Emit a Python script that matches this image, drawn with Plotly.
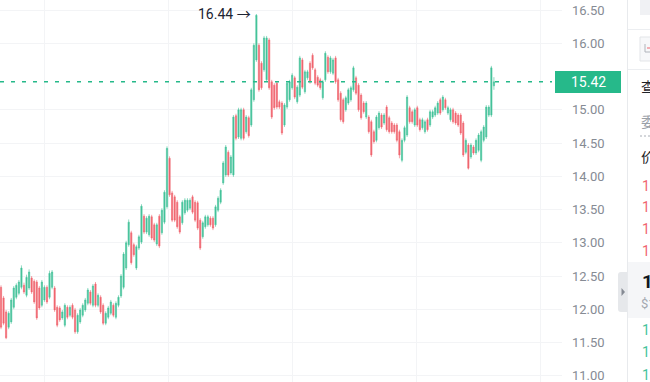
import plotly.graph_objects as go

# ---------------- data (prices) ----------------
opens = [12.33, 12.17, 11.96, 11.73, 11.81, 12.03, 12.18, 12.24, 12.33, 12.36,
         12.21, 12.32, 12.47, 12.42, 12.41, 12.32, 12.06, 12.14, 12.33, 12.18,
         12.33, 12.32, 12.03, 12.02, 11.87, 11.76, 12.03, 11.91, 12.06, 11.99,
         11.66, 11.81, 11.91, 11.99, 12.09, 12.26, 12.06, 12.38, 12.06, 12.18,
         12.06, 11.79, 11.88, 11.94, 12.06, 11.88, 12.06, 12.20, 12.33, 12.62,
         12.97, 13.15, 12.97, 12.62, 12.92, 13.01, 13.40, 13.16, 13.12, 13.39,
         13.27, 12.98, 13.40, 13.15, 13.31, 13.54, 14.27, 13.75, 13.69, 13.61,
         13.39, 13.30, 13.45, 13.49, 13.52, 13.69, 13.61, 13.60, 13.34, 13.09,
         13.24, 13.27, 13.37, 13.37, 13.27, 13.49, 13.61, 13.90, 14.02, 14.36,
         14.05, 14.02, 14.91, 14.59, 14.57, 15.00, 14.67, 14.88, 14.77, 15.15,
         15.75, 15.97, 15.70, 15.60, 15.45, 16.05, 15.42, 15.37, 15.40, 15.12,
         15.10, 14.77, 15.04, 15.15, 15.33, 15.48, 15.12, 15.22, 15.75, 15.27,
         15.48, 15.70, 15.82, 15.60, 15.49, 15.45, 15.18, 15.45, 15.79, 15.57,
         15.55, 15.78, 15.45, 15.25, 15.15, 15.00, 15.10, 15.15, 15.30, 15.48,
         15.37, 15.22, 15.10, 14.89, 14.89, 14.82, 14.67, 14.54, 14.73, 14.92,
         14.80, 15.04, 14.88, 14.80, 14.77, 14.77, 14.67, 14.24, 14.54, 14.62,
         15.03, 14.97, 14.77, 15.03, 14.85, 14.73, 14.67, 14.85, 14.77, 14.89,
         14.92, 14.95, 15.15, 15.00, 15.15, 14.95, 14.85, 15.00, 14.95, 14.92,
         14.92, 14.80, 14.36, 14.47, 14.29, 14.44, 14.35, 14.39, 14.24, 14.54,
         14.59, 14.92, 14.92, 15.36]
closes = [11.73, 11.79, 11.57, 11.94, 12.14, 12.32, 12.36, 12.41, 12.62, 12.26,
          12.48, 12.56, 12.26, 12.11, 11.87, 12.02, 12.41, 12.33, 12.11, 12.54,
          12.56, 11.99, 11.76, 11.84, 11.96, 12.06, 11.88, 12.03, 11.88, 11.66,
          11.91, 11.99, 12.06, 12.14, 12.29, 12.09, 12.35, 12.06, 12.21, 11.96,
          11.79, 11.94, 12.02, 12.11, 11.91, 12.09, 12.18, 12.50, 12.83, 13.00,
          13.31, 12.70, 12.82, 12.94, 13.09, 13.55, 13.16, 13.37, 13.40, 13.07,
          13.04, 13.27, 12.95, 13.49, 13.76, 14.42, 13.72, 13.34, 13.34, 13.24,
          13.16, 13.61, 13.64, 13.64, 13.64, 13.46, 13.34, 13.22, 12.92, 13.30,
          13.39, 13.39, 13.27, 13.22, 13.54, 13.67, 13.79, 14.20, 14.44, 14.02,
          14.29, 14.89, 14.57, 15.00, 15.00, 14.57, 14.89, 14.61, 15.30, 15.97,
          16.42, 15.30, 15.33, 16.08, 16.08, 15.33, 14.89, 15.03, 15.04, 15.04,
          14.65, 15.07, 15.40, 15.42, 15.52, 15.19, 15.34, 15.78, 15.34, 15.57,
          15.57, 15.42, 15.63, 15.40, 15.37, 15.33, 15.42, 15.85, 15.57, 15.78,
          15.75, 15.42, 15.15, 14.85, 14.82, 15.18, 15.30, 15.33, 15.63, 15.25,
          15.00, 14.88, 14.97, 15.10, 14.67, 14.32, 14.52, 14.89, 14.95, 14.74,
          14.92, 14.70, 14.67, 14.67, 14.67, 14.54, 14.32, 14.54, 14.73, 15.19,
          14.82, 14.82, 15.00, 14.77, 14.70, 14.85, 14.82, 14.70, 14.97, 14.97,
          15.03, 15.10, 14.95, 15.19, 15.03, 15.03, 15.00, 14.82, 14.80, 14.77,
          14.65, 14.32, 14.54, 14.12, 14.47, 14.35, 14.54, 14.62, 14.67, 14.74,
          15.04, 15.04, 15.63, 15.42]
highs = [12.36, 12.20, 11.99, 11.97, 12.17, 12.35, 12.39, 12.44, 12.66, 12.40,
         12.52, 12.60, 12.50, 12.45, 12.44, 12.35, 12.44, 12.36, 12.36, 12.58,
         12.59, 12.35, 12.06, 12.05, 11.99, 12.09, 12.06, 12.06, 12.09, 12.02,
         11.94, 12.02, 12.09, 12.17, 12.32, 12.29, 12.38, 12.41, 12.24, 12.21,
         12.09, 11.97, 12.05, 12.14, 12.09, 12.12, 12.21, 12.53, 12.86, 13.03,
         13.35, 13.18, 13.00, 12.97, 13.12, 13.58, 13.43, 13.40, 13.43, 13.42,
         13.30, 13.30, 13.43, 13.52, 13.79, 14.45, 14.30, 13.78, 13.72, 13.64,
         13.42, 13.64, 13.67, 13.67, 13.67, 13.72, 13.64, 13.63, 13.37, 13.33,
         13.42, 13.42, 13.40, 13.40, 13.57, 13.70, 13.82, 14.23, 14.47, 14.39,
         14.32, 14.92, 14.94, 15.03, 15.03, 15.03, 14.92, 14.91, 15.33, 16.00,
         16.44, 16.00, 15.73, 16.11, 16.11, 16.08, 15.45, 15.40, 15.43, 15.15,
         15.13, 15.10, 15.43, 15.45, 15.55, 15.51, 15.37, 15.81, 15.78, 15.60,
         15.60, 15.73, 15.85, 15.63, 15.52, 15.48, 15.45, 15.88, 15.82, 15.81,
         15.78, 15.81, 15.48, 15.28, 15.18, 15.21, 15.33, 15.36, 15.66, 15.51,
         15.40, 15.25, 15.13, 15.13, 14.92, 14.85, 14.70, 14.92, 14.98, 14.95,
         14.95, 15.07, 14.91, 14.83, 14.80, 14.80, 14.70, 14.57, 14.76, 15.22,
         15.06, 15.00, 15.03, 15.06, 14.88, 14.88, 14.85, 14.88, 15.00, 15.00,
         15.06, 15.13, 15.18, 15.22, 15.18, 15.06, 15.03, 15.03, 14.98, 14.95,
         14.95, 14.83, 14.57, 14.50, 14.50, 14.47, 14.57, 14.65, 14.70, 14.77,
         15.07, 15.07, 15.66, 15.49]
lows = [11.70, 11.76, 11.55, 11.70, 11.78, 12.00, 12.15, 12.21, 12.30, 12.23,
        12.18, 12.29, 12.23, 12.08, 11.84, 11.99, 12.03, 12.11, 12.08, 12.15,
        12.30, 11.96, 11.73, 11.81, 11.84, 11.73, 11.85, 11.88, 11.85, 11.63,
        11.63, 11.78, 11.88, 11.96, 12.06, 12.06, 12.03, 12.03, 12.03, 11.93,
        11.76, 11.76, 11.85, 11.91, 11.88, 11.85, 12.03, 12.17, 12.30, 12.59,
        12.94, 12.67, 12.79, 12.59, 12.89, 12.98, 13.13, 13.13, 13.09, 13.04,
        13.01, 12.95, 12.92, 13.12, 13.28, 13.51, 13.69, 13.31, 13.31, 13.21,
        13.13, 13.27, 13.42, 13.46, 13.49, 13.43, 13.31, 13.19, 12.89, 13.06,
        13.21, 13.24, 13.24, 13.19, 13.24, 13.46, 13.58, 13.87, 13.99, 13.99,
        14.02, 13.99, 14.54, 14.56, 14.54, 14.54, 14.64, 14.58, 14.74, 15.12,
        15.72, 15.27, 15.30, 15.57, 15.42, 15.30, 14.86, 15.00, 15.01, 15.01,
        14.62, 14.74, 15.01, 15.12, 15.30, 15.16, 15.09, 15.19, 15.31, 15.24,
        15.45, 15.39, 15.60, 15.37, 15.34, 15.30, 15.15, 15.42, 15.54, 15.54,
        15.52, 15.39, 15.12, 14.82, 14.79, 14.97, 15.07, 15.12, 15.27, 15.22,
        14.97, 14.85, 14.94, 14.86, 14.64, 14.29, 14.49, 14.51, 14.70, 14.71,
        14.77, 14.67, 14.64, 14.64, 14.64, 14.51, 14.27, 14.21, 14.51, 14.59,
        14.79, 14.79, 14.74, 14.74, 14.67, 14.70, 14.64, 14.67, 14.74, 14.86,
        14.89, 14.92, 14.92, 14.97, 15.00, 14.92, 14.82, 14.79, 14.77, 14.74,
        14.62, 14.29, 14.33, 14.10, 14.26, 14.32, 14.32, 14.36, 14.21, 14.51,
        14.56, 14.89, 14.89, 15.30]

last_price = 15.42
price_ticks = [16.5, 16.0, 15.0, 14.5, 14.0, 13.5, 13.0, 12.5, 12.0, 11.5, 11.0]
ask_prices = ["1", "1", "1", "1"]      # order-book rows, only the first digit is visible
bid_prices = ["1", "1", "1"]

# ---------------- styling ----------------
W, H = 650, 382
UP = "#45c39b"
DOWN = "#f0656f"
ACCENT = "#26b98a"
GRID = "#f3f4f6"
FONT = "Roboto, 'Noto Sans CJK SC', sans-serif"


def px(x):
    return x / W


def py(y):
    return 1 - y / H


idx = list(range(len(opens)))

fig = go.Figure(go.Candlestick(
    x=idx, open=opens, high=highs, low=lows, close=closes,
    increasing=dict(line=dict(color=UP, width=0.6), fillcolor=UP),
    decreasing=dict(line=dict(color=DOWN, width=0.6), fillcolor=DOWN),
    whiskerwidth=0, hoverinfo="skip", showlegend=False,
))

step = 2.554  # pixels per candle
x_lo = -1 / step
x_hi = (562 - 1) / step

shapes = [
    # current price dashed line
    dict(type="line", xref="paper", yref="y", x0=0, x1=px(552), y0=last_price, y1=last_price,
         line=dict(color=ACCENT, width=1.5, dash="4px,7px"), layer="above"),
    # price label box
    dict(type="rect", xref="paper", yref="paper", x0=px(555), x1=px(621), y0=py(93), y1=py(71),
         fillcolor=ACCENT, line=dict(width=0), layer="above"),
    # sidebar
    dict(type="line", xref="paper", yref="paper", x0=px(627.5), x1=px(627.5), y0=0, y1=1,
         line=dict(color="#e8eaed", width=1)),
    dict(type="rect", xref="paper", yref="paper", x0=px(640), x1=px(660), y0=py(15), y1=py(-5),
         fillcolor="#f0f1f4", line=dict(width=0)),
    dict(type="line", xref="paper", yref="paper", x0=px(628), x1=1, y0=py(29.5), y1=py(29.5),
         line=dict(color="#eceef1", width=1)),
    dict(type="rect", xref="paper", yref="paper", x0=px(640), x1=px(664), y0=py(61), y1=py(37),
         fillcolor="#f7f8fa", line=dict(color="#e3e5e8", width=1)),
    dict(type="line", xref="paper", yref="paper", x0=px(645), x1=px(645), y0=py(52), y1=py(44),
         line=dict(color="#b0b4bb", width=1)),
    dict(type="line", xref="paper", yref="paper", x0=px(645), x1=px(650), y0=py(52), y1=py(52),
         line=dict(color="#b0b4bb", width=1)),
    dict(type="line", xref="paper", yref="paper", x0=px(647), x1=px(650), y0=py(48), y1=py(48),
         line=dict(color=DOWN, width=1)),
    dict(type="line", xref="paper", yref="paper", x0=px(628), x1=1, y0=py(69.5), y1=py(69.5),
         line=dict(color="#eceef1", width=1)),
    dict(type="line", xref="paper", yref="paper", x0=px(640), x1=1, y0=py(136), y1=py(136),
         line=dict(color="#a8adb5", width=1, dash="2px,2px")),
    dict(type="rect", xref="paper", yref="paper", x0=px(628), x1=1, y0=py(318), y1=py(262),
         fillcolor="#f5f6f8", line=dict(width=0)),
    # collapse handle
    dict(type="path", xref="paper", yref="paper",
         path=(f"M {px(621)},{py(272)} L {px(627)},{py(272)} L {px(627)},{py(312)} "
               f"L {px(621)},{py(312)} Q {px(618)},{py(312)} {px(618)},{py(309)} "
               f"L {px(618)},{py(275)} Q {px(618)},{py(272)} {px(621)},{py(272)} Z"),
         fillcolor="#e6e8eb", line=dict(width=0)),
    dict(type="path", xref="paper", yref="paper",
         path=f"M {px(621.5)},{py(288)} L {px(625)},{py(292)} L {px(621.5)},{py(296)} Z",
         fillcolor="#858a93", line=dict(width=0)),
]

peak_i = max(idx, key=lambda i: highs[i])
annotations = [
    dict(x=peak_i, y=highs[peak_i], xref="x", yref="y", text="16.44 →", showarrow=False,
         xanchor="right", yanchor="middle", xshift=-3,
         font=dict(family=FONT, size=14, color="#1d2433")),
    dict(x=px(588), y=py(82), xref="paper", yref="paper", text=f"{last_price:.2f}", showarrow=False,
         xanchor="center", yanchor="middle", font=dict(family=FONT, size=14, color="white")),
    dict(x=px(639), y=py(87), xref="paper", yref="paper", text="查", showarrow=False,
         xanchor="left", yanchor="middle", font=dict(family=FONT, size=14, color="#1f2329")),
    dict(x=px(639), y=py(122), xref="paper", yref="paper", text="委", showarrow=False,
         xanchor="left", yanchor="middle", font=dict(family=FONT, size=14, color="#9aa0a8")),
    dict(x=px(639), y=py(157), xref="paper", yref="paper", text="价", showarrow=False,
         xanchor="left", yanchor="middle", font=dict(family=FONT, size=14, color="#1f2329")),
    dict(x=px(640), y=py(281), xref="paper", yref="paper", text="<b>1</b>", showarrow=False,
         xanchor="left", yanchor="middle", font=dict(family=FONT, size=19, color="#111722")),
    dict(x=px(639), y=py(303), xref="paper", yref="paper", text="$1", showarrow=False,
         xanchor="left", yanchor="middle", font=dict(family=FONT, size=13, color="#a3a8b0")),
]
for yy, t in zip([186, 207, 229, 251], ask_prices):
    annotations.append(dict(x=px(640), y=py(yy), xref="paper", yref="paper", text=t, showarrow=False,
                            xanchor="left", yanchor="middle",
                            font=dict(family=FONT, size=14, color=DOWN)))
for yy, t in zip([330, 352, 375], bid_prices):
    annotations.append(dict(x=px(640), y=py(yy), xref="paper", yref="paper", text=t, showarrow=False,
                            xanchor="left", yanchor="middle",
                            font=dict(family=FONT, size=14, color=UP)))

y_top = 16.5 + 10 / 66.5
y_bot = 16.5 - (382 - 10) / 66.5

fig.update_layout(
    width=W, height=H,
    margin=dict(l=0, r=0, t=0, b=0, pad=0),
    paper_bgcolor="white", plot_bgcolor="white",
    font=dict(family=FONT),
    xaxis=dict(domain=[0, 562 / W], range=[x_lo, x_hi], showticklabels=False,
               showgrid=True, gridcolor=GRID, gridwidth=1,
               tickmode="linear", tick0=(44 - 1) / step, dtick=124 / step,
               zeroline=False, showline=False, rangeslider=dict(visible=False),
               fixedrange=True, automargin=False),
    yaxis=dict(side="right", range=[y_bot, y_top], tickmode="array",
               tickvals=price_ticks, ticktext=[f"{v:.2f}" for v in price_ticks],
               showgrid=True, gridcolor=GRID, gridwidth=1, zeroline=False, showline=False,
               ticks="", ticklabelstandoff=9, ticklabeloverflow="allow",
               tickfont=dict(family=FONT, size=13, color="#868b94"),
               fixedrange=True, automargin=False),
    shapes=shapes, annotations=annotations,
    hovermode=False,
)

fig.write_html("out.html", config={"displayModeBar": False},
               post_script="document.body.style.margin='0';document.body.style.overflow='hidden';")
